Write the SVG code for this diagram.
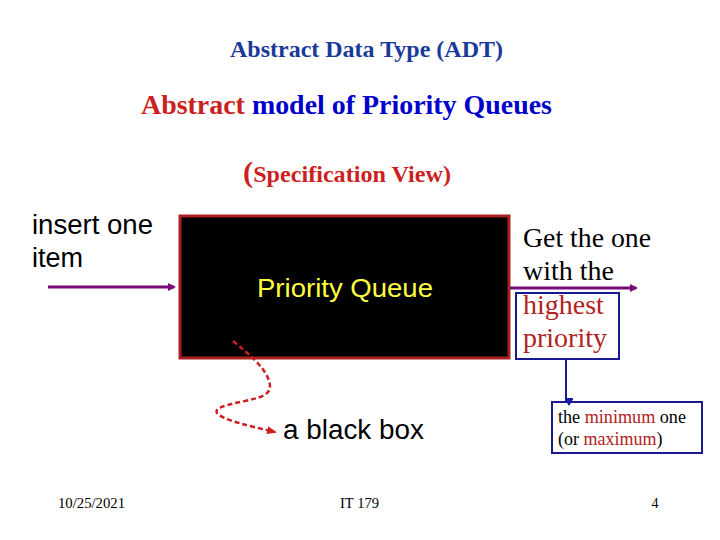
<svg xmlns="http://www.w3.org/2000/svg" width="720" height="540" viewBox="0 0 720 540">
<style>
.serif{font-family:"Liberation Serif","Times New Roman",serif}
.sans{font-family:"Liberation Sans",Arial,sans-serif}
.b{font-weight:bold}
.red{fill:#cc1f1f}
.dred{fill:#b22222}
.blue{fill:#0000cc}
.purple{stroke:#7a0a7a;stroke-width:3;fill:none}
</style>
<defs>
<marker id="ap" markerWidth="8" markerHeight="8" refX="6" refY="4" orient="auto" markerUnits="userSpaceOnUse"><path d="M0,0 L8,4 L0,8 Z" fill="#7a0a7a"/></marker>
<marker id="ab" markerWidth="10" markerHeight="8" refX="5" refY="7" orient="auto" markerUnits="userSpaceOnUse"><path d="M0,0 L10,0 L5,8 Z" fill="#1a1aa0" transform="rotate(-90 5 4)"/></marker>
<marker id="ar" markerWidth="10" markerHeight="8" refX="8" refY="4" orient="auto" markerUnits="userSpaceOnUse"><path d="M0,0 L10,4 L0,8 Z" fill="#cc1f1f"/></marker>
</defs>
<rect width="720" height="540" fill="#ffffff"/>
<g id="titles">
<text x="230" y="57" class="serif b" font-size="23" fill="#1a3a9a" textLength="273" lengthAdjust="spacingAndGlyphs">Abstract Data Type (ADT)</text>
<text x="141" y="114" class="serif b" font-size="28" textLength="411" lengthAdjust="spacingAndGlyphs"><tspan class="red">Abstract</tspan><tspan class="blue"> model of Priority Queues</tspan></text>
<text x="243" y="182" class="serif b red" font-size="23" textLength="208" lengthAdjust="spacingAndGlyphs"><tspan font-size="29">(</tspan>Specification View)</text>
</g>
<g id="pq">
<rect x="180" y="216" width="329" height="142" fill="#000" stroke="#aa2020" stroke-width="3"/>
<text x="257" y="297" class="sans" font-size="26" fill="#ffff40" textLength="176" lengthAdjust="spacingAndGlyphs">Priority Queue</text>
</g>
<g id="input">
<text x="32" y="234" class="sans" font-size="27" fill="#000" textLength="121" lengthAdjust="spacingAndGlyphs">insert one</text>
<text x="32" y="267" class="sans" font-size="27" fill="#000">item</text>
</g>
<g id="output">
<text x="523" y="247" class="serif" font-size="28" fill="#000" textLength="128" lengthAdjust="spacingAndGlyphs">Get the one</text>
<text x="523" y="280" class="serif" font-size="28" fill="#000">with the</text>
<rect x="516" y="293" width="103" height="66" fill="none" stroke="#1a1a90" stroke-width="2"/>
<text x="523" y="314" class="serif dred" font-size="28">highest</text>
<text x="523" y="347" class="serif dred" font-size="28">priority</text>
</g>
<g id="minmax">
<rect x="552" y="402" width="150" height="51" fill="none" stroke="#1a1a90" stroke-width="2"/>
<text x="558" y="423" class="serif" font-size="18" fill="#000" textLength="128" lengthAdjust="spacingAndGlyphs">the <tspan class="dred">minimum</tspan> one</text>
<text x="558" y="445" class="serif" font-size="18" fill="#000">(or <tspan class="dred">maximum</tspan>)</text>
</g>
<g id="blackbox-label">
<text x="283" y="439" class="sans" font-size="27" fill="#000" textLength="141" lengthAdjust="spacingAndGlyphs">a black box</text>
</g>
<g id="connectors">
<line x1="48" y1="287" x2="174" y2="287" class="purple" marker-end="url(#ap)"/>
<line x1="510" y1="288" x2="636" y2="288" class="purple" marker-end="url(#ap)"/>
<line x1="566" y1="359" x2="566" y2="402" stroke="#1a1aa0" stroke-width="2" marker-end="url(#ab)"/>
<path d="M233,341 C250,355 262,365 268,378 C275,395 262,397 245,401 C225,405 214,408 217,413 C222,420 250,426 275,432" fill="none" stroke="#cc1f1f" stroke-width="2.5" stroke-dasharray="5,3" marker-end="url(#ar)"/>
</g>
<g id="footer">
<text x="58" y="508" class="serif" font-size="14" fill="#000" textLength="67" lengthAdjust="spacingAndGlyphs">10/25/2021</text>
<text x="340" y="508" class="serif" font-size="14" fill="#000" textLength="39" lengthAdjust="spacingAndGlyphs">IT 179</text>
<text x="655" y="508" text-anchor="middle" class="serif" font-size="14" fill="#000">4</text>
</g>
</svg>
